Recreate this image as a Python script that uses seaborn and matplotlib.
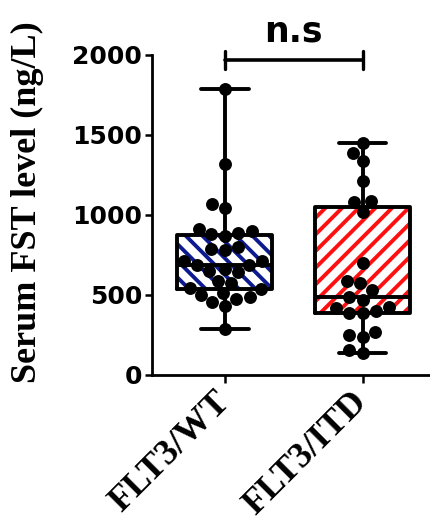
import matplotlib
matplotlib.use("Agg")
import matplotlib.pyplot as plt
import seaborn as sns
import pandas as pd

# ---- data ----
groups = ["FLT3/WT", "FLT3/ITD"]
wt_values = [290, 430, 455, 475, 490, 500, 510, 535, 545, 575, 590, 645, 650,
             660, 690, 690, 710, 715, 780, 790, 800, 870, 880, 890, 900, 910,
             1045, 1070, 1320, 1790]
itd_values = [140, 155, 240, 250, 270, 385, 390, 400, 420, 425, 470, 485, 530,
              575, 585, 700, 1020, 1083, 1085, 1210, 1335, 1390, 1452]
yticks = [0, 500, 1000, 1500, 2000]
ylabel = "Serum FST level (ng/L)"
sig_label = "n.s"
hatch_colors = ["#0d1a8f", "#ff1010"]
hatches = ["\\\\", "//"]

df = pd.DataFrame({
    "group": [groups[0]] * len(wt_values) + [groups[1]] * len(itd_values),
    "value": wt_values + itd_values,
})

sns.set_style("ticks")
plt.rcParams["hatch.linewidth"] = 2.8
plt.rcParams["text.color"] = "black"
plt.rcParams["axes.labelcolor"] = "black"
plt.rcParams["xtick.color"] = "black"
plt.rcParams["ytick.color"] = "black"
plt.rcParams["axes.edgecolor"] = "black"

fig = plt.figure(figsize=(4.3, 5.25), dpi=100)
ax = fig.add_axes([152 / 430, 150 / 525, 278 / 430, 320 / 525])

# hatched fill layer
sns.boxplot(data=df, x="group", y="value", order=groups, whis=(0, 100),
            showfliers=False, width=0.69, fill=True, color="white",
            linewidth=0, ax=ax)
boxes = [p for p in ax.patches]
for p, hc, h in zip(boxes, hatch_colors, hatches):
    p.set_facecolor("white")
    p.set_edgecolor(hc)
    p.set_hatch(h)
    p.set_linewidth(0)

# outline layer
sns.boxplot(data=df, x="group", y="value", order=groups, whis=(0, 100),
            showfliers=False, width=0.69, fill=False, color="black",
            linecolor="black", linewidth=2.8, ax=ax)

# points
sns.swarmplot(data=df, x="group", y="value", order=groups, color="black",
              size=9.3, ax=ax, zorder=5)

ax.set_xlim(-0.53, 1.49)
ax.set_ylim(0, 2000)
ax.set_yticks(yticks)
ax.set_yticklabels([str(t) for t in yticks], fontsize=18, fontweight="bold",
                   family="DejaVu Sans", color="black")
ax.set_xlabel("")
ax.set_ylabel(ylabel, fontsize=26, fontweight="bold", family="Liberation Serif",
              color="black")
ax.yaxis.set_label_coords(-0.39, 0.54)
ax.set_xticks([0, 1])
ax.set_xticklabels(groups, fontsize=26, fontweight="bold",
                   family="Liberation Serif", rotation=45, ha="right",
                   va="center", rotation_mode="anchor", color="black")

for s in ["top", "right"]:
    ax.spines[s].set_visible(False)
for s in ["left", "bottom"]:
    ax.spines[s].set_linewidth(2.0)
    ax.spines[s].set_color("black")
ax.tick_params(axis="both", width=1.8, length=5, color="black")
ax.tick_params(axis="x", length=6, pad=10)
ax.tick_params(axis="y", pad=2)

# significance bracket
yb = 1970
ax.plot([0, 1], [yb, yb], color="black", lw=2.6, clip_on=False)
ax.plot([0, 0], [yb - 55, yb + 55], color="black", lw=2.4, clip_on=False)
ax.plot([1, 1], [yb - 55, yb + 55], color="black", lw=2.4, clip_on=False)
ax.text(0.5, 2085, sig_label, ha="center", va="baseline", fontsize=25,
        fontweight="bold", family="DejaVu Sans", color="black", clip_on=False)

fig.savefig("out.png", dpi=100)
